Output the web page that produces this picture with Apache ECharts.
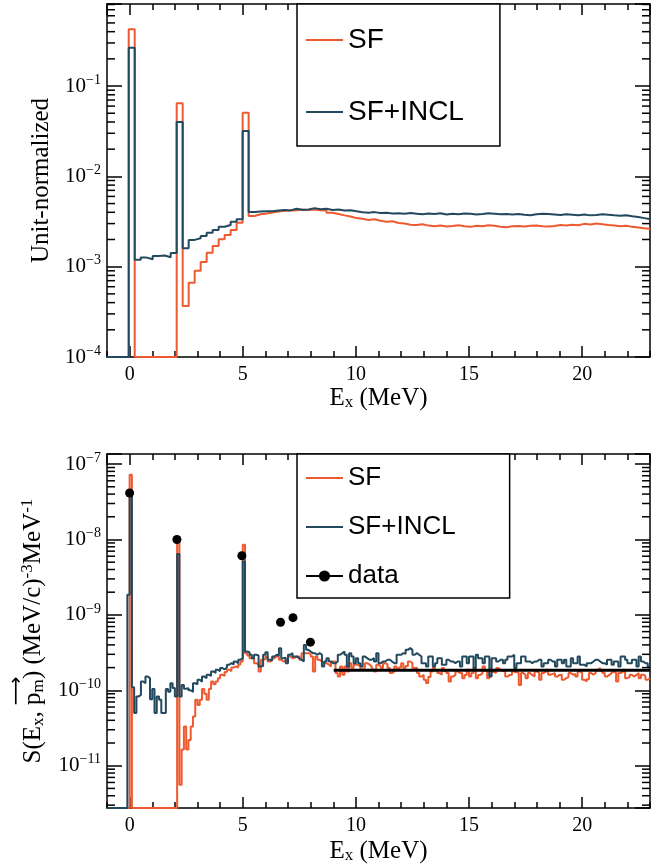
<!DOCTYPE html>
<html><head><meta charset="utf-8">
<script src="https://cdn.jsdelivr.net/npm/echarts@6/dist/echarts.min.js"></script>
<style>html,body{margin:0;padding:0;background:#fff}#c{width:672px;height:867px}</style>
</head><body><div id="c"></div>
<script>
// ---------------- DATA ----------------
// Top panel: unit-normalized histograms, bins of 0.265 MeV starting at -1.10 MeV
const topBinStart = -1.10, topBinWidth = 0.265;
const topSF = [
  0, 0, 0, 0,
  0.425,
  0, 0, 0, 0, 0, 0, 0,
  0.0645,
  3.67e-4, 6.65e-4, 9.0e-4, 1.13e-3, 1.43e-3, 1.69e-3, 2.01e-3, 2.24e-3, 2.55e-3, 3.07e-3,
  0.0507,
  3.64e-3, 3.80e-3, 3.88e-3, 3.98e-3, 4.08e-3, 4.15e-3, 4.20e-3, 4.22e-3, 4.28e-3, 4.25e-3,
  4.30e-3, 4.22e-3, 4.20e-3, 3.95e-3, 3.83e-3, 3.70e-3, 3.60e-3, 3.45e-3, 3.40e-3, 3.29e-3,
  3.35e-3, 3.22e-3, 3.15e-3, 3.18e-3, 3.05e-3, 3.00e-3, 2.92e-3, 2.90e-3, 2.95e-3, 2.85e-3,
  2.80e-3, 2.86e-3, 2.78e-3, 2.82e-3, 2.88e-3, 2.80e-3, 2.76e-3, 2.84e-3, 2.80e-3, 2.88e-3,
  2.84e-3, 2.77e-3, 2.74e-3, 2.80e-3, 2.82e-3, 2.78e-3, 2.84e-3, 2.86e-3, 2.80e-3, 2.78e-3,
  2.82e-3, 2.90e-3, 2.86e-3, 2.92e-3, 2.88e-3, 2.98e-3, 2.94e-3, 3.00e-3, 2.95e-3, 2.90e-3,
  2.86e-3, 2.80e-3, 2.84e-3, 2.76e-3, 2.72e-3, 2.66e-3, 2.61e-3
];
const topSFINCL = [
  0, 0, 0, 0,
  0.266,
  1.19e-3, 1.26e-3, 1.21e-3, 1.31e-3, 1.33e-3, 1.27e-3, 1.42e-3,
  0.040,
  1.60e-3, 1.98e-3, 2.06e-3, 2.19e-3, 2.38e-3, 2.55e-3, 2.77e-3, 2.90e-3, 3.15e-3, 3.35e-3,
  0.0318,
  4.04e-3, 4.08e-3, 4.12e-3, 4.10e-3, 4.18e-3, 4.25e-3, 4.20e-3, 4.38e-3, 4.28e-3, 4.30e-3,
  4.45e-3, 4.32e-3, 4.38e-3, 4.25e-3, 4.30e-3, 4.18e-3, 4.22e-3, 4.10e-3, 4.00e-3, 3.96e-3,
  4.02e-3, 3.92e-3, 3.95e-3, 3.88e-3, 3.90e-3, 3.85e-3, 3.92e-3, 3.86e-3, 3.80e-3, 3.88e-3,
  3.82e-3, 3.90e-3, 3.78e-3, 3.85e-3, 3.80e-3, 3.88e-3, 3.85e-3, 3.78e-3, 3.82e-3, 3.90e-3,
  3.86e-3, 3.80e-3, 3.84e-3, 3.78e-3, 3.82e-3, 3.76e-3, 3.72e-3, 3.80e-3, 3.86e-3, 3.82e-3,
  3.78e-3, 3.74e-3, 3.80e-3, 3.76e-3, 3.72e-3, 3.78e-3, 3.70e-3, 3.74e-3, 3.80e-3, 3.76e-3,
  3.70e-3, 3.66e-3, 3.72e-3, 3.62e-3, 3.55e-3, 3.45e-3, 3.35e-3
];

// Bottom panel: S(Ex, pm), bins of 0.1 MeV starting at -1.0 MeV
const botBinStart = -1.0, botBinWidth = 0.1;
const botSF = [
  0, 0, 0, 0, 0, 0, 0, 0, 0, 0,
  7.2e-8,
  0, 0, 0, 0, 0, 0, 0, 0, 0, 0, 0, 0, 0, 0, 0, 0, 0, 0, 0, 0,
  1.05e-8,
  5.6e-12, 1.64e-11, 3.3e-11, 1.64e-11, 2.2e-11, 3.3e-11, 4.5e-11, 7.5e-11, 6.4e-11, 7.5e-11,
  1.04e-10, 9.0e-11, 7.5e-11, 1.04e-10, 1.31e-10, 1.2e-10, 1.31e-10, 1.45e-10, 1.61e-10, 1.55e-10,
  1.75e-10, 1.87e-10, 1.8e-10, 2.0e-10, 2.07e-10, 2.0e-10, 2.2e-10, 2.41e-10,
  8.5e-9,
  3.1e-10, 2.9e-10, 2.67e-10, 2.67e-10, 2.29e-10, 2.2e-10, 1.78e-10, 2.54e-10, 2.6e-10, 2.81e-10,
  2.41e-10, 2.5e-10, 2.67e-10, 2.81e-10, 2.8e-10, 2.54e-10, 2.41e-10, 2.45e-10, 2.54e-10, 2.81e-10,
  2.67e-10, 2.7e-10, 2.81e-10, 2.81e-10, 2.54e-10, 3.11e-10, 3.11e-10, 3.11e-10, 3.05e-10, 2.8e-10,
  1.78e-10, 2.81e-10, 2.54e-10, 2.41e-10, 2.29e-10, 2.29e-10, 2.2e-10, 2.07e-10, 2.41e-10, 2.41e-10,
  1.69e-10, 1.52e-10, 2.07e-10, 1.61e-10, 2.07e-10, 1.78e-10, 2.29e-10, 1.97e-10, 2.18e-10, 2.18e-10,
  2.07e-10, 1.9e-10, 2.0e-10, 2.29e-10, 2.2e-10, 2.07e-10, 1.9e-10, 1.78e-10, 2.18e-10, 2.1e-10,
  1.97e-10, 2.29e-10, 2.2e-10, 1.97e-10, 1.69e-10, 1.78e-10, 2.07e-10, 1.87e-10, 2.0e-10, 2.29e-10,
  1.97e-10, 2.1e-10, 2.41e-10, 2.29e-10, 1.97e-10, 2.0e-10, 1.69e-10, 1.52e-10, 1.6e-10, 1.38e-10,
  1.25e-10, 1.5e-10, 1.78e-10, 1.97e-10, 1.85e-10, 1.69e-10, 1.61e-10, 1.97e-10, 1.8e-10, 1.69e-10,
  1.31e-10, 1.52e-10, 1.6e-10, 1.78e-10, 1.7e-10, 1.69e-10, 1.45e-10, 1.6e-10, 1.87e-10, 1.52e-10,
  1.7e-10, 1.97e-10, 1.45e-10, 1.6e-10, 1.69e-10, 2.07e-10, 1.8e-10, 1.45e-10, 1.87e-10, 1.75e-10,
  1.69e-10, 1.97e-10, 1.87e-10, 1.8e-10, 1.78e-10, 1.52e-10, 1.6e-10, 1.61e-10, 1.87e-10, 1.75e-10,
  1.69e-10, 1.18e-10, 1.69e-10, 1.6e-10, 1.45e-10, 1.69e-10, 1.6e-10, 1.52e-10, 1.78e-10, 1.7e-10,
  1.38e-10, 1.69e-10, 1.75e-10, 1.87e-10, 1.61e-10, 1.65e-10, 1.69e-10, 1.52e-10, 1.6e-10, 1.61e-10,
  1.38e-10, 1.45e-10, 1.5e-10, 1.69e-10, 1.61e-10, 1.65e-10, 1.52e-10, 1.78e-10, 1.7e-10, 1.38e-10,
  1.31e-10, 1.4e-10, 1.69e-10, 1.61e-10, 1.7e-10, 1.87e-10, 1.97e-10, 1.8e-10, 1.69e-10, 1.52e-10,
  1.6e-10, 1.69e-10, 1.78e-10, 1.7e-10, 1.31e-10, 1.69e-10, 1.75e-10, 1.87e-10, 1.45e-10, 1.5e-10,
  1.61e-10, 1.52e-10, 1.6e-10, 1.69e-10, 1.45e-10, 1.61e-10, 1.55e-10, 1.38e-10, 1.45e-10
];
const botSFINCL = [
  0, 0, 0, 0, 0, 0, 0, 0, 0,
  1.85e-9,
  4.0e-8,
  1.1e-10, 5.0e-11, 8.3e-11, 8.7e-11, 1.31e-10, 1.24e-10, 1.52e-10, 1.45e-10, 7.6e-11, 1.04e-10,
  5.0e-11, 8.3e-11, 7.5e-11, 5.0e-11, 5.0e-11, 1.04e-10, 9.6e-11, 1.24e-10, 1.07e-10, 8.3e-11,
  6.4e-9,
  8.3e-11, 1.18e-10, 1.05e-10, 1.07e-10, 1.0e-10, 9.5e-11, 1.24e-10, 1.2e-10, 1.38e-10, 1.3e-10,
  1.52e-10, 1.45e-10, 1.61e-10, 1.55e-10, 1.78e-10, 1.7e-10, 1.87e-10, 1.8e-10, 1.97e-10, 1.9e-10,
  2.0e-10, 2.18e-10, 2.29e-10, 2.2e-10, 2.41e-10, 2.29e-10, 2.54e-10, 2.67e-10,
  5.1e-9,
  3.27e-10, 3.2e-10, 2.96e-10, 2.67e-10, 2.96e-10, 2.9e-10, 2.07e-10, 2.1e-10, 2.96e-10, 3.2e-10,
  2.54e-10, 2.5e-10, 2.81e-10, 2.96e-10, 2.9e-10, 3.62e-10, 2.67e-10, 2.7e-10, 2.29e-10, 2.96e-10,
  3.11e-10, 2.81e-10, 2.8e-10, 2.67e-10, 2.54e-10, 2.41e-10, 4.0e-10, 3.44e-10, 3.27e-10, 3.11e-10,
  3.1e-10, 2.96e-10, 3.11e-10, 2.96e-10, 2.07e-10, 2.41e-10, 2.67e-10, 2.41e-10, 2.29e-10, 2.29e-10,
  2.41e-10, 2.96e-10, 3.11e-10, 3.27e-10, 2.96e-10, 2.07e-10, 3.11e-10, 2.81e-10, 2.29e-10, 2.67e-10,
  2.29e-10, 2.07e-10, 2.81e-10, 2.67e-10, 2.54e-10, 2.54e-10, 2.67e-10, 2.41e-10, 3.11e-10, 2.29e-10,
  2.41e-10, 2.41e-10, 2.54e-10, 2.54e-10, 2.41e-10, 2.29e-10, 2.29e-10, 2.96e-10, 2.96e-10, 3.11e-10,
  3.05e-10, 3.44e-10, 3.62e-10, 3.44e-10, 2.96e-10, 3.11e-10, 2.96e-10, 2.81e-10, 2.29e-10, 2.29e-10,
  2.07e-10, 2.81e-10, 2.81e-10, 2.07e-10, 2.29e-10, 2.67e-10, 2.67e-10, 2.18e-10, 2.18e-10, 2.54e-10,
  2.41e-10, 2.41e-10, 2.29e-10, 2.41e-10, 2.41e-10, 2.07e-10, 2.81e-10, 2.81e-10, 2.29e-10, 2.81e-10,
  2.81e-10, 1.97e-10, 2.96e-10, 2.67e-10, 2.67e-10, 2.29e-10, 2.81e-10, 2.81e-10, 1.52e-10, 2.67e-10,
  2.67e-10, 2.41e-10, 2.54e-10, 2.54e-10, 2.29e-10, 2.54e-10, 2.81e-10, 2.81e-10, 2.96e-10, 1.97e-10,
  2.29e-10, 2.29e-10, 2.81e-10, 2.81e-10, 2.41e-10, 2.41e-10, 2.29e-10, 2.41e-10, 2.41e-10, 2.54e-10,
  2.54e-10, 2.07e-10, 2.29e-10, 2.29e-10, 2.54e-10, 2.41e-10, 2.41e-10, 2.07e-10, 2.54e-10, 2.54e-10,
  2.29e-10, 2.54e-10, 2.07e-10, 2.07e-10, 2.67e-10, 2.29e-10, 2.29e-10, 2.81e-10, 2.18e-10, 2.18e-10,
  2.07e-10, 2.29e-10, 2.29e-10, 2.41e-10, 2.54e-10, 2.54e-10, 2.41e-10, 2.29e-10, 2.29e-10, 2.18e-10,
  2.54e-10, 2.54e-10, 2.18e-10, 2.41e-10, 2.41e-10, 2.07e-10, 2.81e-10, 2.81e-10, 2.54e-10, 2.29e-10,
  2.29e-10, 2.54e-10, 2.54e-10, 2.07e-10, 2.81e-10, 2.41e-10, 2.29e-10, 2.29e-10, 2.07e-10
];

// Measured data points and the continuum band
const dataX = [0.0, 2.09, 4.96, 6.67, 7.22, 7.99];
const dataY = [4.13e-8, 1.0e-8, 6.08e-9, 8.0e-10, 9.2e-10, 4.35e-10];
const dataContX = [9.02, 23.0];
const dataContY = [1.84e-10, 1.84e-10];

// Axis ranges
const xMin = -1, xMax = 23;
const topYMin = 1e-4, topYMax = 0.81;
const botYMin = 2.75e-12, botYMax = 1.36e-7;

// ---------------- STYLE ----------------
const RED = '#ee5a30', BLUE = '#22495e', BLACK = '#000';
const SERIF = 'Liberation Serif', SANS = 'Liberation Sans';
const G_LEFT = 107, G_W = 543;
const grids = [
  { left: G_LEFT, top: 4, width: G_W, height: 353, containLabel: false, outerBoundsMode: 'none' },
  { left: G_LEFT, top: 454, width: G_W, height: 354, containLabel: false, outerBoundsMode: 'none' }
];

function stepPoints(start, width, vals, floor) {
  const pts = vals.map((v, i) => [+(start + i * width).toFixed(4), v > 0 ? v : floor]);
  const last = vals[vals.length - 1];
  pts.push([+(start + vals.length * width).toFixed(4), last > 0 ? last : floor]);
  return pts;
}
function minorValues(min, max) {
  const out = [];
  for (let e = Math.floor(Math.log10(min)); e <= Math.ceil(Math.log10(max)); e++) {
    for (let m = 2; m <= 9; m++) {
      const v = m * Math.pow(10, e);
      if (v > min && v < max) out.push([0, v]);
    }
  }
  return out;
}
const supLabel = (v) => {
  const e = Math.log10(v);
  if (Math.abs(e - Math.round(e)) > 1e-6) return '';
  return '{b|10}{s|\u2212' + Math.abs(Math.round(e)) + '}';
};

// Bottom y title with an over-arrow on p_m: every token gets a measured fixed width
const mctx = document.createElement('canvas').getContext('2d');
function tw(text, size) { mctx.font = size + 'px "' + SERIF + '"'; return Math.ceil(mctx.measureText(text).width * 10) / 10; }
const NAME_FS = 25, SUB_FS = 17;
const parts = [
  ['ta', 'S(E', 'n'], ['tb', 'x', 'sub'], ['tc', ', ', 'n'], ['td', 'p', 'n'], ['te', 'm', 'sub'],
  ['tf', ') (MeV/c)', 'n'], ['tg', '-3', 'sup'], ['th', 'MeV', 'n'], ['ti', '-1', 'sup']
];
const baseStyles = {
  n: { fontFamily: SERIF, fontSize: NAME_FS, lineHeight: 28, color: BLACK },
  sub: { fontFamily: SERIF, fontSize: SUB_FS, verticalAlign: 'bottom', lineHeight: 4, color: BLACK },
  sup: { fontFamily: SERIF, fontSize: SUB_FS, verticalAlign: 'top', lineHeight: 8, color: BLACK }
};
const botYRich = {};
const W = {};
parts.forEach(([key, txt, kind]) => {
  W[key] = tw(txt, kind === 'n' ? NAME_FS : SUB_FS);
  botYRich[key] = Object.assign({}, baseStyles[kind], { width: W[key], align: 'left' });
});
const wPre = W.ta + W.tb + W.tc, wPm = W.td + W.te, wRest = W.tf + W.tg + W.th + W.ti;
botYRich.pad = { width: wPre, lineHeight: 5, fontSize: 5 };
botYRich.arr = { width: wPm + 2, align: 'center', fontFamily: 'DejaVu Sans', fontSize: 20, lineHeight: 5, color: BLACK };
botYRich.pad2 = { width: wRest - 2, lineHeight: 5, fontSize: 5 };
const botYName = '{pad| }{arr|\u27F6}{pad2| }\n' +
  parts.map(([key, txt]) => '{' + key + '|' + txt + '}').join('');

const axLine = { show: true, onZero: false, lineStyle: { color: BLACK, width: 1.5 } };

function xAxesFor(gi, nameGap) {
  return [
    { gridIndex: gi, type: 'value', position: 'bottom', min: xMin, max: xMax,
      axisLine: axLine, splitLine: { show: false },
      axisTick: { show: true, inside: true, length: 11, lineStyle: { color: BLACK, width: 1.5 } },
      axisLabel: { show: true, color: BLACK, fontFamily: SERIF, fontSize: 20, margin: 8,
        showMinLabel: false, showMaxLabel: false },
      name: 'E{sub|x} (MeV)', nameLocation: 'middle', nameGap: nameGap,
      nameTextStyle: { color: BLACK, fontFamily: SERIF, fontSize: 25,
        rich: { sub: { fontFamily: SERIF, fontSize: 17, verticalAlign: 'bottom', lineHeight: 4 } } } },
    { gridIndex: gi, type: 'value', position: 'top', min: xMin, max: xMax,
      axisLine: axLine, splitLine: { show: false },
      axisTick: { show: true, inside: true, length: 11, lineStyle: { color: BLACK, width: 1.5 } },
      axisLabel: { show: false } },
    { gridIndex: gi, type: 'value', position: 'bottom', min: xMin, max: xMax, interval: 1,
      axisLine: { show: false }, splitLine: { show: false },
      axisTick: { show: true, inside: true, length: 6, lineStyle: { color: BLACK, width: 1.5 } },
      axisLabel: { show: false } },
    { gridIndex: gi, type: 'value', position: 'top', min: xMin, max: xMax, interval: 1,
      axisLine: { show: false }, splitLine: { show: false },
      axisTick: { show: true, inside: true, length: 6, lineStyle: { color: BLACK, width: 1.5 } },
      axisLabel: { show: false } }
  ];
}
function yAxesFor(gi, min, max, name, nameGap, rich) {
  return [
    { gridIndex: gi, type: 'log', logBase: 10, position: 'left', min: min, max: max,
      axisLine: axLine, splitLine: { show: false }, minorTick: { show: false },
      axisTick: { show: true, inside: true, length: 15, lineStyle: { color: BLACK, width: 1.5 } },
      axisLabel: { show: true, margin: 6, formatter: supLabel, color: BLACK,
        rich: { b: { fontFamily: SERIF, fontSize: 21, color: BLACK, lineHeight: 26 },
                s: { fontFamily: SERIF, fontSize: 14, color: BLACK, verticalAlign: 'top', lineHeight: 14 } } },
      name: name, nameLocation: 'middle', nameGap: nameGap, nameRotate: 90,
      nameTextStyle: { color: BLACK, fontFamily: SERIF, fontSize: 25, rich: rich } },
    { gridIndex: gi, type: 'log', logBase: 10, position: 'right', min: min, max: max,
      axisLine: axLine, splitLine: { show: false }, minorTick: { show: false },
      axisTick: { show: true, inside: true, length: 15, lineStyle: { color: BLACK, width: 1.5 } },
      axisLabel: { show: false } }
  ];
}

function minorTickSeries(xi, yi, min, max) {
  return {
    type: 'custom', xAxisIndex: xi, yAxisIndex: yi, silent: true, clip: false, z: 20,
    data: minorValues(min, max), encode: { x: 0, y: 1 },
    renderItem: (params, api) => {
      const cs = params.coordSys;
      const y = api.coord([0, api.value(1)])[1];
      const st = { stroke: BLACK, lineWidth: 1.5 };
      return { type: 'group', children: [
        { type: 'line', shape: { x1: cs.x, y1: y, x2: cs.x + 8, y2: y }, style: st },
        { type: 'line', shape: { x1: cs.x + cs.width - 8, y1: y, x2: cs.x + cs.width, y2: y }, style: st }
      ] };
    }
  };
}

function histSeries(name, xi, yi, pts, color, z) {
  return { name: name, type: 'line', step: 'end', xAxisIndex: xi, yAxisIndex: yi,
    data: pts, symbol: 'none', showSymbol: false, clip: true, z: z,
    lineStyle: { color: color, width: 2 }, itemStyle: { color: color } };
}

const dataSeriesPoints = [];
dataX.forEach((x, i) => {
  dataSeriesPoints.push([x, dataY[i]]);
  dataSeriesPoints.push([x + 0.01, '-']);
});
dataSeriesPoints.push({ value: [dataContX[0], dataContY[0]], symbol: 'none' });
dataSeriesPoints.push({ value: [dataContX[1], dataContY[1]], symbol: 'none' });

const noSym = { opacity: 0 };
const option = {
  animation: false,
  backgroundColor: '#fff',
  textStyle: { fontFamily: SERIF },
  grid: grids,
  xAxis: [].concat(xAxesFor(0, 27), xAxesFor(1, 31)),
  yAxis: [].concat(
    yAxesFor(0, topYMin, topYMax, 'Unit-normalized', 45, {}),
    yAxesFor(1, botYMin, botYMax, botYName, 54, botYRich)
  ),
  legend: [
    { orient: 'vertical', left: 297, top: 4, selectedMode: false,
      data: [{ name: 'SF', itemStyle: noSym }, { name: 'SF+INCL', itemStyle: noSym }],
      padding: [22, 36, 20, 8], itemGap: 44, itemWidth: 37, itemHeight: 14,
      backgroundColor: '#fff', borderColor: BLACK, borderWidth: 1.5, borderRadius: 0,
      textStyle: { fontFamily: SANS, fontSize: 28, color: BLACK } },
    { orient: 'vertical', left: 297, top: 454, selectedMode: false,
      data: [{ name: 'SF', itemStyle: noSym }, { name: 'SF+INCL', itemStyle: noSym }, 'data'],
      padding: [11, 54, 9, 8], itemGap: 23, itemWidth: 37, itemHeight: 14,
      backgroundColor: '#fff', borderColor: BLACK, borderWidth: 1.5, borderRadius: 0,
      textStyle: { fontFamily: SANS, fontSize: 26, color: BLACK } }
  ],
  series: [
    histSeries('SF', 0, 0, stepPoints(topBinStart, topBinWidth, topSF, topYMin), RED, 3),
    histSeries('SF+INCL', 0, 0, stepPoints(topBinStart, topBinWidth, topSFINCL, topYMin), BLUE, 4),
    histSeries('SF', 4, 2, stepPoints(botBinStart, botBinWidth, botSF, botYMin), RED, 3),
    histSeries('SF+INCL', 4, 2, stepPoints(botBinStart, botBinWidth, botSFINCL, botYMin), BLUE, 4),
    { name: 'data', type: 'line', xAxisIndex: 4, yAxisIndex: 2, data: dataSeriesPoints,
      symbol: 'circle', symbolSize: 9, showSymbol: true, showAllSymbol: true, connectNulls: false,
      clip: true, z: 6,
      lineStyle: { color: BLACK, width: 3 }, itemStyle: { color: BLACK } },
    minorTickSeries(0, 0, topYMin, topYMax),
    minorTickSeries(4, 2, botYMin, botYMax)
  ]
};

const chart = echarts.init(document.getElementById('c'), null, { renderer: 'canvas' });
chart.setOption(option);
</script>
</body></html>
